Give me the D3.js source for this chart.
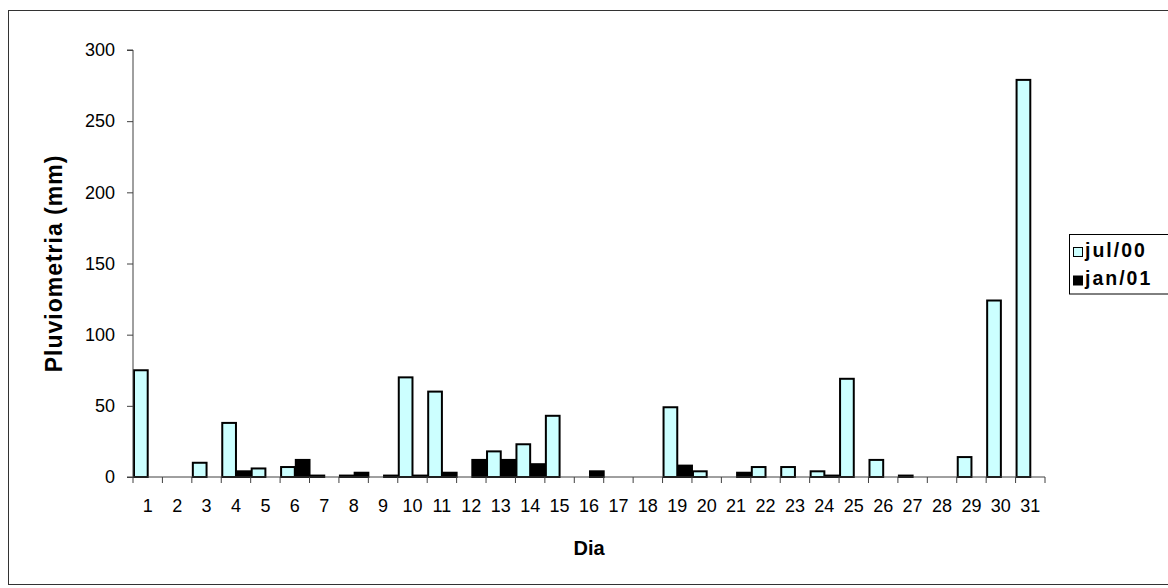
<!DOCTYPE html>
<html>
<head>
<meta charset="utf-8">
<script src="https://cdn.jsdelivr.net/npm/d3@7"></script>
<style>
  body { margin: 0; background: #fff; }
  svg text { font-family: "Liberation Sans", Arial, sans-serif; }
</style>
</head>
<body>
<svg id="chart" width="1168" height="588"></svg>
<script>
const days = ["1","2","3","4","5","6","7","8","9","10","11","12","13","14","15","16","17","18","19","20","21","22","23","24","25","26","27","28","29","30","31"];
const jul00 = [75,0,10,38,6,7,1,1,0,70,60,0,18,23,43,0,0,0,49,4,0,7,7,4,69,12,1,0,14,124,279];
const jan01 = [0,0,0,4,0,12,0,3,1,1,3,12,12,9,0,4,0,0,8,0,3,0,0,1,0,0,0,0,0,0,0];
const yTicks = [0,50,100,150,200,250,300];
const seriesNames = ["jul/00","jan/01"];
const seriesColors = ["#CCFFFF","#000000"];

(function(){
const svg = d3.select("#chart");
const pL = 133, pR = 1045, pT = 50, pB = 477;

// outer frame
svg.append("rect").attr("x",8.5).attr("y",10.5).attr("width",1170).attr("height",574)
  .attr("fill","none").attr("stroke","#333").attr("stroke-width",1);

const x = d3.scaleBand().domain(days).range([pL,pR]).padding(0);
const y = d3.scaleLinear().domain([0,300]).range([pB,pT]);
const bw = x.bandwidth();

// bars
const series = [jul00, jan01];
series.forEach((vals, si) => {
  svg.append("g").selectAll("rect")
    .data(days.map((d,i)=>({d, v: vals[i]})).filter(o=>o.v>0))
    .join("rect")
    .attr("x", o => x(o.d) + si*bw/2 + 1)
    .attr("y", o => y(o.v))
    .attr("width", bw/2 - 1)
    .attr("height", o => pB - y(o.v))
    .attr("fill", seriesColors[si])
    .attr("stroke", "#000")
    .attr("stroke-width", 2);
});

// y axis
const yAxis = d3.axisLeft(y).tickValues(yTicks).tickSize(6).tickPadding(12);
const gy = svg.append("g").attr("transform",`translate(${pL},0)`).call(yAxis);
gy.select(".domain").attr("stroke","#404040").attr("d",`M-6,${pT}H0V${pB}H-6`);
gy.selectAll(".tick line").attr("stroke","#404040");
gy.selectAll("text").attr("font-size",18).attr("fill","#000").style("font-family","'Liberation Sans', Arial, sans-serif");

// x axis
const xAxis = d3.axisBottom(x).tickSize(0).tickPadding(22);
const gx = svg.append("g").attr("transform",`translate(0,${pB})`).call(xAxis);
gx.select(".domain").attr("stroke","#404040").attr("d",`M${pL},0H${pR}`);
gx.selectAll("text").attr("font-size",18).attr("fill","#000").style("font-family","'Liberation Sans', Arial, sans-serif");
// boundary ticks
const bounds = days.map(d=>x(d)).concat([pR]);
gx.append("g").selectAll("line").data(bounds).join("line")
  .attr("x1",d=>d).attr("x2",d=>d).attr("y1",0).attr("y2",6)
  .attr("stroke","#404040");

// axis titles
svg.append("text").attr("transform",`translate(62,${(pT+pB)/2}) rotate(-90)`)
  .attr("text-anchor","middle").attr("font-size",23).attr("font-weight","bold")
  .attr("letter-spacing",1).text("Pluviometria (mm)");
svg.append("text").attr("x",(pL+pR)/2).attr("y",555)
  .attr("text-anchor","middle").attr("font-size",20).attr("font-weight","bold").text("Dia");

// legend
const lg = svg.append("g");
lg.append("rect").attr("x",1069.5).attr("y",234.5).attr("width",110).attr("height",59.5)
  .attr("fill","#fff").attr("stroke","#000").attr("stroke-width",1);
seriesNames.forEach((n,i)=>{
  const yy = 247 + i*28.5;
  lg.append("rect").attr("x",1073.5).attr("y",yy+0.5).attr("width",9).attr("height",9)
    .attr("fill",seriesColors[i]).attr("stroke","#000").attr("stroke-width",1);
  lg.append("text").attr("x",1085).attr("y",yy+9.5).attr("font-size",19.5).attr("font-weight","bold")
    .attr("letter-spacing",2).text(n);
});
})();
</script>
</body>
</html>
